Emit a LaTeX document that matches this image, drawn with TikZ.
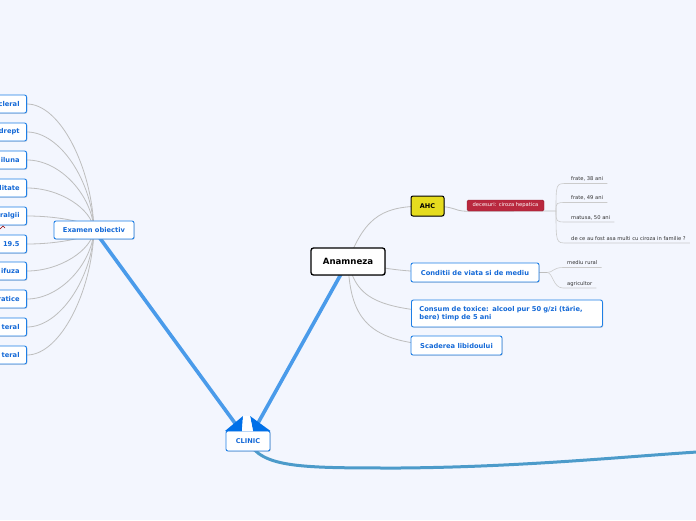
\documentclass[tikz,border=0pt]{standalone}
\usepackage{fontspec}
\setmainfont{DejaVu Sans}
\usetikzlibrary{calc,shadows}
\definecolor{bgc}{RGB}{243,246,254}
\definecolor{boxblue}{RGB}{30,127,230}
\definecolor{txtblue}{RGB}{20,105,215}
\definecolor{lineblue}{RGB}{74,155,234}
\definecolor{curveblue}{RGB}{76,155,202}
\definecolor{headblue}{RGB}{0,112,232}
\definecolor{gl}{RGB}{190,190,190}
\definecolor{ahcyellow}{RGB}{230,220,30}
\definecolor{decred}{RGB}{185,40,62}
\definecolor{smallgray}{RGB}{50,50,50}
\pgfdeclarelayer{bglayer}
\pgfdeclarelayer{edgelayer}
\pgfsetlayers{bglayer,edgelayer,main}
\tikzset{
  bbox/.style={draw=boxblue, line width=0.9pt, fill=white, rounded corners=2pt,
    font=\bfseries\fontsize{6.7}{8.6}\selectfont, text=txtblue, inner xsep=7pt, inner ysep=0pt,
    minimum height=18pt, drop shadow={shadow xshift=0.8pt, shadow yshift=-0.8pt, opacity=0.25}},
  lbox/.style={bbox, anchor=east, text width=45pt, align=right},
  gline/.style={draw=gl, line width=0.8pt},
  sline/.style={draw=gl!80, line width=0.6pt},
  tline/.style={draw=lineblue, line width=3.6pt},
  small/.style={font=\fontsize{5.2}{6}\selectfont, text=smallgray, inner xsep=4pt, inner ysep=1.6pt,
    anchor=south west, text height=3.8pt, text depth=0.9pt},
}
\begin{document}
\begin{tikzpicture}[x=1pt,y=-1pt]
\useasboundingbox (0,0) rectangle (696,520);
\begin{pgfonlayer}{bglayer}
\fill[bgc] (0,0) rectangle (696,520);
\end{pgfonlayer}

% left column boxes
\node[lbox] (l1) at (27,104) {cleral};
\node[lbox] (l2) at (27,132) {drept};
\node[lbox] (l3) at (27,160) {iluna};
\node[lbox] (l4) at (27,188) {litate};
\node[lbox] (l5) at (27,216) {ralgii};
\node[lbox] (l6) at (27,244) {19.5};
\node[lbox] (l7) at (27,271) {ifuza};
\node[lbox] (l8) at (27,299) {ratice};
\node[lbox] (l9) at (27,327) {teral};
\node[lbox] (l10) at (27,355) {teral};
\draw[red!60!black, line width=0.6pt] (0,229) -- (3,226) -- (5,228);

\node[bbox, minimum width=80pt] (exam) at (94,230) {Examen obiectiv};

\node[draw=black, line width=1.3pt, fill=white, rounded corners=2.5pt, minimum width=74pt,
  minimum height=27pt, inner sep=0pt, font=\bfseries\fontsize{8.6}{10}\selectfont,
  drop shadow={shadow xshift=0.8pt, shadow yshift=-0.8pt, opacity=0.25}] (anam) at (348,261.5) {Anamneza};

\node[bbox, minimum width=44pt, minimum height=20pt, inner xsep=2pt,
  font=\bfseries\fontsize{6.6}{8}\selectfont] (clinic) at (248,441) {CLINIC};

\node[draw=black, line width=1pt, fill=ahcyellow, rounded corners=2pt, minimum width=33pt,
  minimum height=20pt, inner sep=0pt, font=\bfseries\fontsize{6.5}{7.5}\selectfont,
  drop shadow={shadow xshift=0.8pt, shadow yshift=-0.8pt, opacity=0.25}] (ahc) at (427.5,206) {AHC};

\node[fill=decred, draw=decred!80!black, line width=0.4pt, rounded corners=1.5pt, minimum width=77pt,
  minimum height=11pt, inner sep=0pt, text=white, font=\fontsize{5.2}{6}\selectfont] (dec) at (505.5,205.5) {decesuri: ciroza hepatica};

\node[bbox, minimum width=128pt, minimum height=19pt] (cond) at (475,272.5) {Conditii de viata si de mediu};
\node[bbox, anchor=west, text width=175pt, align=left, minimum height=27pt, inner xsep=8pt] (cons) at (411,313.5)
  {Consum de toxice: alcool pur 50 g/zi (tărie,\\bere) timp de 5 ani};
\node[bbox, minimum width=91pt, minimum height=19pt] (scad) at (456.5,345.5) {Scaderea libidoului};

% small leaf texts
\node[small] (f38) at (567,183.5) {frate, 38 ani};
\node[small] (f49) at (567,202.5) {frate, 49 ani};
\node[small] (mat) at (567,222) {matusa, 50 ani};
\node[small, inner xsep=4pt] (dece) at (567,243) {de ce au fost asa multi cu ciroza in familie ?};
\node[small] (rural) at (563,267.5) {mediu rural};
\node[small] (agri) at (563,288) {agricultor};
\coordinate (j1) at (556,211);
\coordinate (j2) at (547,272.5);
\coordinate (offr) at (697,452);

% arrowhead shapes above CLINIC
\fill[headblue] (225,431) -- (243,416) -- (242,431) -- cycle;
\fill[headblue] (250,416) -- (270.5,431) -- (253,431) -- cycle;
\fill[white] (243,416) -- (250,416) -- (253,431) -- (242,431) -- cycle;

\begin{pgfonlayer}{edgelayer}
% left connectors
\draw[gline] (l1.east) .. controls +(33,0) and (92,167) .. (exam.center);
\draw[gline] (l2.east) .. controls +(33,0) and (92,181) .. (exam.center);
\draw[gline] (l3.east) .. controls +(33,0) and (92,195) .. (exam.center);
\draw[gline] (l4.east) .. controls +(33,0) and (92,209) .. (exam.center);
\draw[gline] (l5.east) .. controls +(33,0) and (92,223) .. (exam.center);
\draw[gline] (l6.east) .. controls +(33,0) and (92,237) .. (exam.center);
\draw[gline] (l7.east) .. controls +(33,0) and (92,250) .. (exam.center);
\draw[gline] (l8.east) .. controls +(33,0) and (92,264) .. (exam.center);
\draw[gline] (l9.east) .. controls +(33,0) and (92,278) .. (exam.center);
\draw[gline] (l10.east) .. controls +(33,0) and (92,292) .. (exam.center);
% thick blue
\draw[tline] (exam.center) -- (clinic.center);
\draw[tline] (anam.center) -- (clinic.center);
\draw[draw=curveblue, line width=3pt] (clinic.center) .. controls (262,468) and (300,468) .. (400,468)
   .. controls (520,467) and (620,457) .. (offr);
% anamneza connectors
\draw[gline] (anam.center) .. controls (366,214) and (385,206) .. (ahc.center);
\draw[gline] (anam.center) .. controls (395,270) and (400,272.5) .. (cond.center);
\draw[gline] (anam.center) .. controls (358,302) and (378,314) .. (cons.center);
\draw[gline] (anam.center) .. controls (350,322) and (370,346) .. (scad.center);
% AHC -> decesuri
\draw[gline] (ahc.center) .. controls (458,206) and (452,211) .. (dec.south west) -- (j1);
\foreach \n in {f38,f49,mat,dece}{
  \draw[sline] (j1) .. controls (j1|-\n.south west) .. (\n.south west) -- (\n.south east);
}
\draw[gline] (cond.center) -- (j2);
\foreach \n in {rural,agri}{
  \draw[sline] (j2) .. controls (553,272.5) and (553,0 |- \n.south west) .. (\n.south west) -- (\n.south east);
}
\end{pgfonlayer}
\end{tikzpicture}
\end{document}
